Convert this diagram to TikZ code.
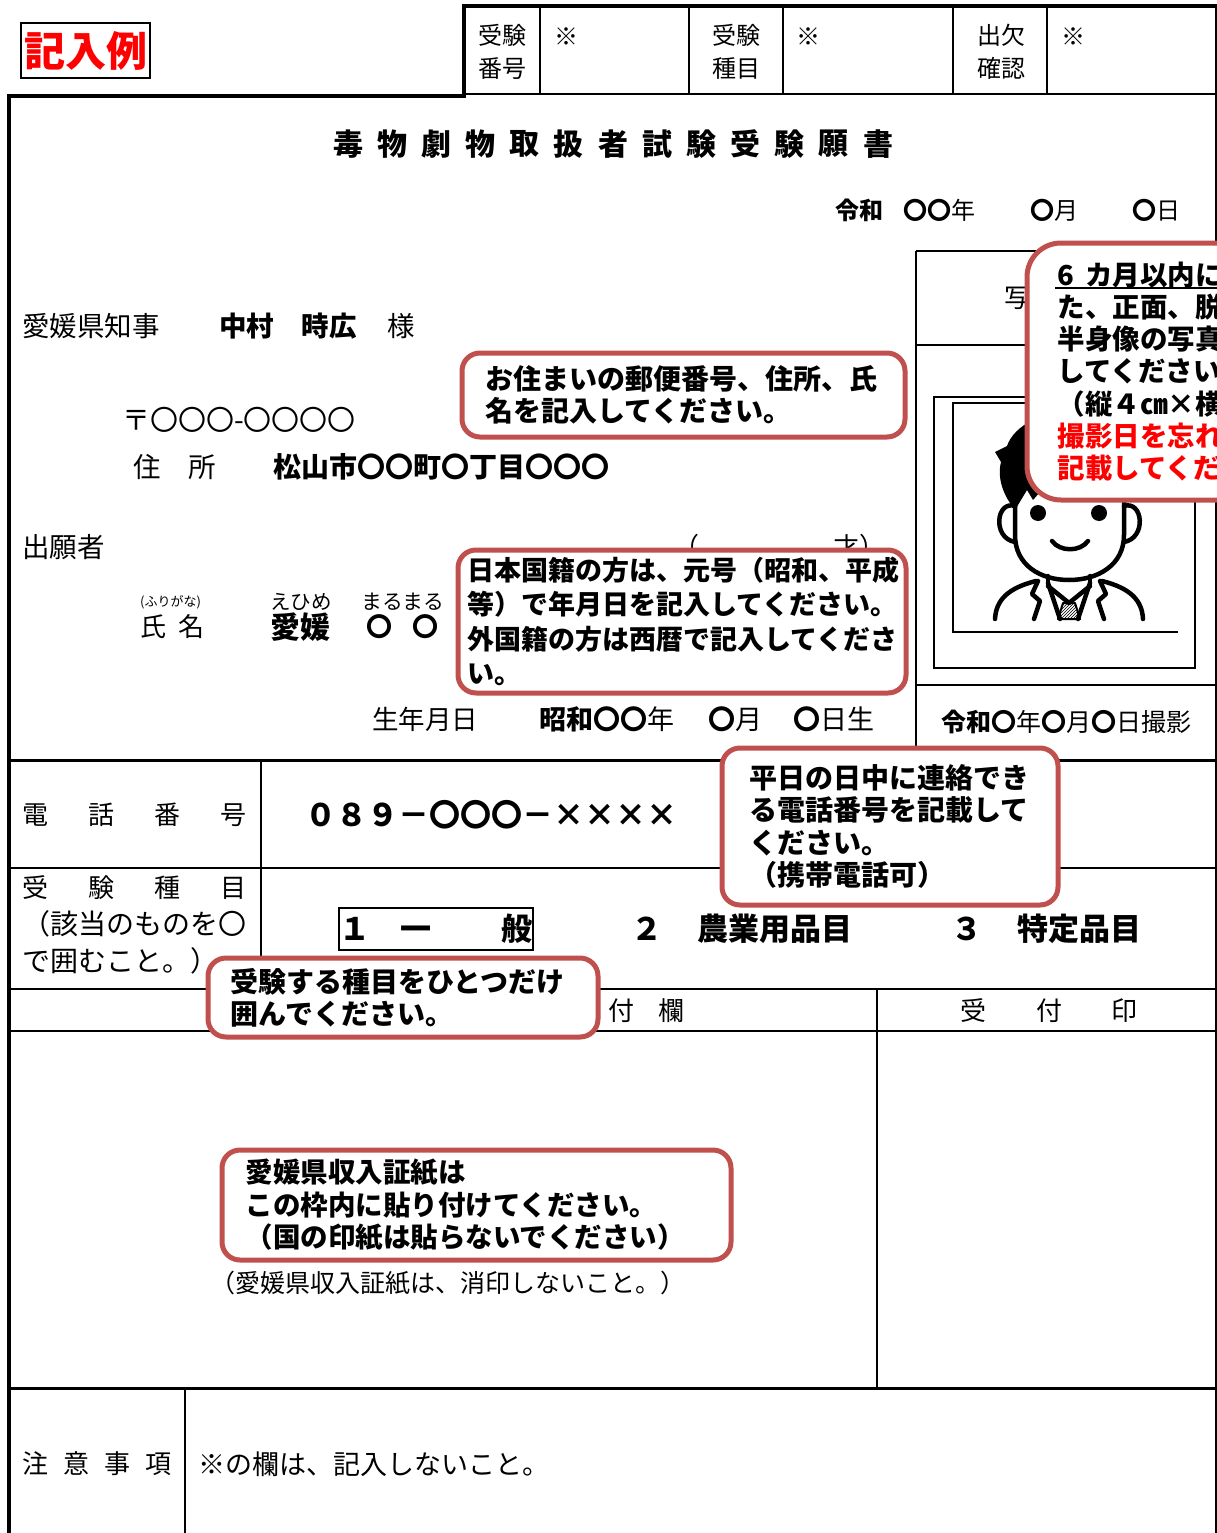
\documentclass[tikz,border=0pt]{standalone}
\usepackage{fontspec}
\setmainfont{Noto Sans CJK JP}
\usetikzlibrary{patterns}
\definecolor{calloutred}{RGB}{192,80,77}
\tikzset{
  formtext/.style={inner sep=0pt, anchor=west, font=\fontsize{26}{30}\selectfont},
  filltext/.style={inner sep=0pt, anchor=west, font=\bfseries\fontsize{28}{30}\selectfont},
  hdrtext/.style={inner sep=0pt, align=center, font=\fontsize{24}{33}\selectfont},
  titletext/.style={inner sep=0pt, font=\bfseries\fontsize{30}{30}\selectfont},
  callout/.style={draw=calloutred, line width=5pt, fill=white, rounded corners=18pt,
    anchor=north west, align=left, inner ysep=0pt, font=\bfseries\fontsize{27.5}{32.5}\selectfont},
  thinrule/.style={line width=2.5pt},
  thickrule/.style={line width=3.5pt},
}
\begin{document}
\begin{tikzpicture}[x=1pt,y=-1pt]
    \useasboundingbox (0,0) rectangle (1217,1533);
    \fill[white] (0,0) rectangle (1217,1533);

    \node[draw, line width=2pt, inner sep=0pt, minimum width=129pt, minimum height=55pt, text=red,
      font=\bfseries\fontsize{41}{41}\selectfont] (sample) at (85.5,50.5) {記入例};

    \draw[line width=4pt] (462,6) -- (1217,6);
    \draw[thickrule] (464,4) -- (464,97);
    \draw[thinrule] (464,94) -- (1216,94);
    \foreach \xx in {540,689,783,953,1047} \draw[thinrule] (\xx,6) -- (\xx,94);
    \draw[line width=1.5pt] (1216,4) -- (1216,1533);
    \node[hdrtext] (numhead) at (502,51.5) {受験\\番号};
    \node[hdrtext] (nummark) at (566,37) {※};
    \node[hdrtext] (kindhead) at (736,51.5) {受験\\種目};
    \node[hdrtext] (kindmark) at (808,37) {※};
    \node[hdrtext] (attendhead) at (1001,51.5) {出欠\\確認};
    \node[hdrtext] (attendmark) at (1073,37) {※};

    \draw[thickrule] (7,96) -- (466,96);
    \draw[thickrule] (9,94) -- (9,1533);
    \draw[line width=3pt] (9,760) -- (1216,760);
    \draw[thinrule] (9,868) -- (1216,868);
    \draw[thinrule] (9,989) -- (1216,989);
    \draw[thinrule] (9,1031) -- (1216,1031);
    \draw[line width=3pt] (9,1388) -- (1216,1388);
    \draw[thinrule] (261,760) -- (261,989);
    \draw[thinrule] (877,989) -- (877,1388);
    \draw[thinrule] (185,1388) -- (185,1533);

    \draw[thinrule] (916,251) -- (1216,251);
    \draw[thinrule] (916,251) -- (916,760);
    \draw[thinrule] (916,345) -- (1216,345);
    \draw[thinrule] (916,685) -- (1216,685);
    \draw[line width=1.5pt] (934,397) rectangle (1195,668);
    \draw[line width=1.5pt] (1178,403) -- (953,403) -- (953,632) -- (1178,632);

    \foreach \ch [count=\i from 0] in {毒,物,劇,物,取,扱,者,試,験,受,験,願,書}
      \node[titletext] (title\i) at ({348+44.17*\i},144) {\ch};
    \node[formtext, font=\fontsize{24}{30}\selectfont] (appdate) at (835,210)
      {{\bfseries 令和}\hspace{20pt}{\bfseries 〇〇}年\hspace{55pt}{\bfseries 〇}月\hspace{54pt}{\bfseries 〇}日};

    \node[formtext, font=\fontsize{27.5}{30}\selectfont] (governor) at (22,326) {愛媛県知事};
    \node[filltext, font=\bfseries\fontsize{27.5}{30}\selectfont] (govname) at (219,326) {中村　時広};
    \node[formtext, font=\fontsize{27.5}{30}\selectfont] (honor) at (387,326) {様};
    \node[formtext, font=\fontsize{28}{30}\selectfont] (postcode) at (122,420) {〒〇〇〇-〇〇〇〇};
    \node[formtext, font=\fontsize{27.5}{30}\selectfont] (addrhead) at (133,467) {住　所};
    \node[filltext] (address) at (273,467) {松山市〇〇町〇丁目〇〇〇};
    \node[formtext, font=\fontsize{27.5}{30}\selectfont] (applicant) at (22,547) {出願者};
    \node[formtext] (age) at (673,547) {（\hspace{134pt}才）};
    \node[formtext, font=\fontsize{13}{15}\selectfont] (furihead) at (140,602) {(ふりがな)};
    \node[formtext] (namehead) at (140,627) {氏\hspace{12pt}名};
    \node[formtext, font=\fontsize{20.5}{22}\selectfont] (furisei) at (270,602) {えひめ};
    \node[filltext, font=\bfseries\fontsize{30}{30}\selectfont] (sei) at (270,627) {愛媛};
    \node[formtext, font=\fontsize{20.8}{22}\selectfont] (furimei) at (361,602) {まるまる};
    \node[filltext, font=\bfseries\fontsize{26}{30}\selectfont] (mei) at (366,627) {〇\hspace{20pt}〇};
    \node[formtext, font=\fontsize{26.5}{30}\selectfont] (birthhead) at (372,719) {生年月日};
    \node[formtext, font=\fontsize{27}{30}\selectfont] (birth) at (539,719)
      {{\bfseries 昭和〇〇}年\hspace{34pt}{\bfseries 〇}月\hspace{31pt}{\bfseries 〇}日生};

    \node[formtext] (telhead) at (22,815) {電\hspace{40pt}話\hspace{40pt}番\hspace{40pt}号};
    \node[filltext, font=\bfseries\fontsize{31}{32}\selectfont] (tel) at (305,815) {０８９－〇〇〇－××××};
    \node[formtext] (kindrow) at (22,888) {受\hspace{40pt}験\hspace{40pt}種\hspace{40pt}目};
    \node[formtext, font=\fontsize{28}{30}\selectfont] (kindnote1) at (22,924) {（該当のものを〇};
    \node[formtext, font=\fontsize{28}{30}\selectfont] (kindnote2) at (22,961) {で囲むこと。）};
    \node[draw, line width=2pt, inner sep=0pt, minimum width=194pt, minimum height=42pt,
      font=\bfseries\fontsize{31}{32}\selectfont] (general) at (436,929) {１\hspace{30pt}一\hspace{70pt}般};
    \node[filltext, font=\bfseries\fontsize{31}{32}\selectfont] (agri) at (631,929) {２\hspace{35pt}農業用品目};
    \node[filltext, font=\bfseries\fontsize{31}{32}\selectfont] (special) at (951,929) {３\hspace{35pt}特定品目};

    \node[formtext] (deskhead) at (608,1011) {付\hspace{24pt}欄};
    \node[formtext] (stamphead) at (960,1011) {受\hspace{50pt}付\hspace{49pt}印};
    \node[formtext, font=\fontsize{25}{30}\selectfont] (nocancel) at (210,1283) {（愛媛県収入証紙は、消印しないこと。）};
    \node[formtext] (notehead) at (22,1464) {注\hspace{15pt}意\hspace{15pt}事\hspace{15pt}項};
    \node[formtext, font=\fontsize{27}{30}\selectfont] (notebody) at (198,1464) {※の欄は、記入しないこと。};

    \node[formtext] (photohead) at (1004,298) {写};
    \node[formtext, font=\fontsize{25}{30}\selectfont] (photodate) at (941,722)
      {{\bfseries 令和〇}年{\bfseries 〇}月{\bfseries 〇}日撮影};

    \begin{scope}[line width=4.5pt, line cap=round, line join=round]
      \fill (1015,510) .. controls (1003,495) and (997,478) .. (1001,462) -- (995,452) -- (1007,446)
        .. controls (1014,425) and (1045,410) .. (1075,410) .. controls (1110,410) and (1130,430) .. (1130,470)
        -- (1126,505) .. controls (1105,482) and (1065,480) .. (1040,492) -- (1033,500) -- (1027,490) -- cycle;
      \draw (1015,498) -- (1015,535) .. controls (1015,565) and (1040,580) .. (1069,580)
        .. controls (1098,580) and (1124,565) .. (1124,535) -- (1124,498);
      \draw (1015,506) .. controls (996,500) and (992,538) .. (1015,542);
      \draw (1124,506) .. controls (1143,500) and (1147,538) .. (1124,542);
      \fill (1038,513) circle[radius=8pt];
      \fill (1099,513) circle[radius=8pt];
      \draw (1052,541) .. controls (1060,552) and (1080,552) .. (1088,541);
      \draw (1048,576) -- (1048,586);
      \draw (1090,576) -- (1090,586);
      \draw (995,619) .. controls (996,600) and (1008,588) .. (1036,581);
      \draw (1143,619) .. controls (1142,600) and (1130,588) .. (1102,581);
      \draw (1038,581) -- (1032,594) -- (1040,601) -- (1034,619);
      \draw (1100,581) -- (1106,594) -- (1098,601) -- (1104,619);
      \draw (1048,583) -- (1060,619);
      \draw (1090,583) -- (1078,619);
      \draw (1048,586) -- (1069,603) -- (1090,586);
      \draw[line width=2pt, pattern=north east lines] (1063,603) -- (1075,603) -- (1080,619) -- (1058,619) -- cycle;
    \end{scope}

    \node[callout, text width=396pt, inner xsep=23.5pt, minimum height=84pt,
      font=\bfseries\fontsize{28}{32.5}\selectfont] (addrnote) at (459.5,350.5)
      {お住まいの郵便番号、住所、氏\\名を記入してください。};
    \node[callout, text width=429pt, inner xsep=9.5pt, minimum height=143pt,
      font=\bfseries\fontsize{27}{34.3}\selectfont] (birthnote) at (455.5,547.5)
      {日本国籍の方は、元号（昭和、平成\\等）で年月日を記入してください。\\外国籍の方は西暦で記入してくださ\\い。};
    \node[callout, text width=281pt, inner xsep=27.5pt, minimum height=157pt,
      font=\bfseries\fontsize{28}{32.3}\selectfont] (telnote) at (719.5,745.5)
      {平日の日中に連絡でき\\る電話番号を記載して\\ください。\\（携帯電話可）};
    \node[callout, text width=345pt, inner xsep=22.5pt, minimum height=79pt,
      font=\bfseries\fontsize{28}{32}\selectfont] (kindnote) at (205.5,955.5)
      {受験する種目をひとつだけ\\囲んでください。};
    \node[callout, text width=462pt, inner xsep=23.5pt, minimum height=110pt] (stampnote) at (219.5,1147.5)
      {愛媛県収入証紙は\\この枠内に貼り付けてください。\\（国の印紙は貼らないでください）};
    \node[callout, rounded corners=34pt, text width=202pt, inner xsep=30.5pt, minimum height=257pt,
      font=\bfseries\fontsize{27.5}{32.2}\selectfont] (photonote) at (1024.5,240.5)
      {6\hspace{11pt}カ月以内に\\た、正面、脱\\半身像の写真\\してください\\（縦４㎝×横\\{\color{red}撮影日を忘れ}\\{\color{red}記載してくだ}};
    \draw[line width=2pt] (1055,288) -- (1217,288);
\end{tikzpicture}
\end{document}
